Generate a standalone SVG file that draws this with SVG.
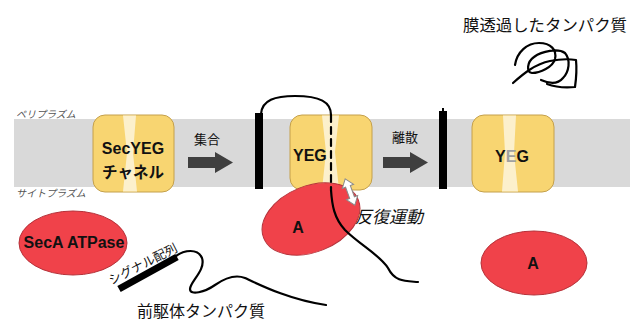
<svg xmlns="http://www.w3.org/2000/svg" width="636" height="323" viewBox="0 0 636 323">
  <defs>
    <style>
      .band { fill: #d9d9d9; }
      .box { fill: #f8d571; stroke: #c4a04c; stroke-width: 1; }
      .pore { fill: #fcf0cc; }
      .bar { fill: #000; }
      .step { fill: #3f3f3f; }
      .seca { fill: #f0424a; stroke: #b5323a; stroke-width: 1; }
      .chain { fill: none; stroke: #000; stroke-width: 2.2; stroke-linecap: round; stroke-linejoin: round; }
      .jp { font-family: "Noto Sans CJK JP", "Liberation Sans", sans-serif; fill: #111; }
      .lbl { font-family: "Liberation Sans", "Noto Sans CJK JP", sans-serif; font-weight: bold; fill: #111; }
      .side { font-family: "Noto Sans CJK JP", sans-serif; font-size: 10px; fill: #555; }
    </style>
  </defs>

  <rect width="636" height="323" fill="#fff"/>

  <!-- membrane -->
  <rect class="band" x="14" y="119" width="616" height="68"/>
  <text class="side" transform="translate(16 118) skewX(-14)">ペリプラズム</text>
  <text class="side" transform="translate(16 197) skewX(-14)">サイトプラズム</text>

  <!-- SecYEG channel, closed -->
  <g id="secyeg">
    <rect class="box" x="93" y="115" width="81" height="77" rx="12"/>
    <path class="pore" d="M123,115.5 L136,115.5 L133,153 L137,191.5 L123,191.5 L127,153 Z"/>
    <text class="lbl" x="133" y="154" font-size="16" text-anchor="middle">SecYEG</text>
    <text class="jp" x="133" y="178" font-size="15.5" font-weight="bold" text-anchor="middle">チャネル</text>
  </g>

  <!-- step 1 -->
  <g id="step-assemble">
    <text class="jp" x="207" y="144" font-size="13" text-anchor="middle">集合</text>
    <path class="step" d="M188,157 L215,157 L215,152 L233,162.5 L215,173 L215,168 L188,168 Z"/>
  </g>

  <!-- translocating complex -->
  <g id="yeg-active">
    <rect class="bar" x="255" y="113" width="8" height="76"/>
    <rect class="box" x="290" y="115" width="82" height="75" rx="12"/>
    <path class="pore" d="M322,115.5 L339,115.5 L335,152 L339,189.5 L322,189.5 L326,152 Z"/>
    <text class="lbl" x="293" y="161" font-size="16">YEG</text>
  </g>

  <g id="seca-bound">
    <ellipse class="seca" cx="311" cy="219" rx="51" ry="33" transform="rotate(-22 311 219)"/>
    <text class="lbl" x="298" y="233" font-size="16" text-anchor="middle">A</text>
  </g>

  <!-- step 2 -->
  <g id="step-release">
    <text class="jp" x="405" y="142" font-size="13" text-anchor="middle">離散</text>
    <path class="step" d="M383,157 L410,157 L410,152 L428,162.5 L410,173 L410,168 L383,168 Z"/>
  </g>

  <!-- released channel -->
  <g id="yeg-idle">
    <rect class="bar" x="439" y="111" width="8" height="78"/>
    <rect class="bar" x="442" y="108" width="2" height="4"/>
    <rect class="box" x="472" y="115" width="82" height="77" rx="12"/>
    <path class="pore" d="M503,115.5 L516,115.5 L514,153 L518,191.5 L502,191.5 L505,153 Z"/>
    <text class="lbl" x="512" y="162" font-size="16" text-anchor="middle">Y<tspan fill="#a0a0a0">E</tspan>G</text>
  </g>

  <g id="seca-free">
    <ellipse class="seca" cx="534" cy="263" rx="53" ry="32"/>
    <text class="lbl" x="533" y="269" font-size="16" text-anchor="middle">A</text>
  </g>

  <g id="seca">
    <ellipse class="seca" cx="73" cy="243" rx="54" ry="32"/>
    <text class="lbl" x="74" y="248" font-size="16" text-anchor="middle">SecA ATPase</text>
  </g>

  <!-- precursor with signal sequence -->
  <g id="precursor">
    <line x1="119" y1="289" x2="177" y2="257" stroke="#000" stroke-width="7"/>
    <text class="jp" x="145" y="268" font-size="12.5" text-anchor="middle" transform="rotate(-27 145 268)">シグナル配列</text>
    <text class="jp" x="201" y="317" font-size="16" text-anchor="middle">前駆体タンパク質</text>
  </g>

  <g id="translocated">
    <text class="jp" x="545" y="31" font-size="16.4" text-anchor="middle">膜透過したタンパク質</text>
    <path class="chain" d="M515,65 C517,52 527,43 539,43 C551,43 557,50 555,59 C553,67 540,73 532,73 C526,72 527,62 534,57 C542,51 558,48 565,53 C571,60 569,72 563,78 C558,84 550,84 541,80"/>
    <path class="chain" d="M513,83 C523,74 535,64 550,61 C560,59 570,59 576,60 C577,70 576,80 575,87 C565,88 555,87 547,84"/>
  </g>

  <!-- polypeptide chains -->
  <g id="connectors">
    <path class="chain" d="M176,256 C184,250 198,248 202,258 C206,270 190,282 190,289 C190,296 205,292 215,285 C225,278 235,274 245,278 C260,285 290,300 326,305"/>
    <path class="chain" d="M261,114 C262,100 275,96 295,96 C320,96 331,102 331,115"/>
    <line class="chain" x1="331" y1="115" x2="331" y2="190" stroke-dasharray="7 5" stroke-linecap="butt"/>
    <path class="chain" d="M331,190 C332,205 334,218 345,230 C360,245 380,255 388,268 C395,282 405,281 418,282"/>
  </g>

  <!-- reciprocating motion -->
  <g id="motion">
    <path d="M0,-14 L6,-6 L2.5,-6 L2.5,6 L6,6 L0,14 L-6,6 L-2.5,6 L-2.5,-6 L-6,-6 Z" fill="#fff" stroke="#8a8a8a" stroke-width="1" transform="translate(350 192) rotate(-20)"/>
    <text class="jp" font-size="17" transform="translate(355 223) skewX(-14)">反復運動</text>
  </g>
</svg>
